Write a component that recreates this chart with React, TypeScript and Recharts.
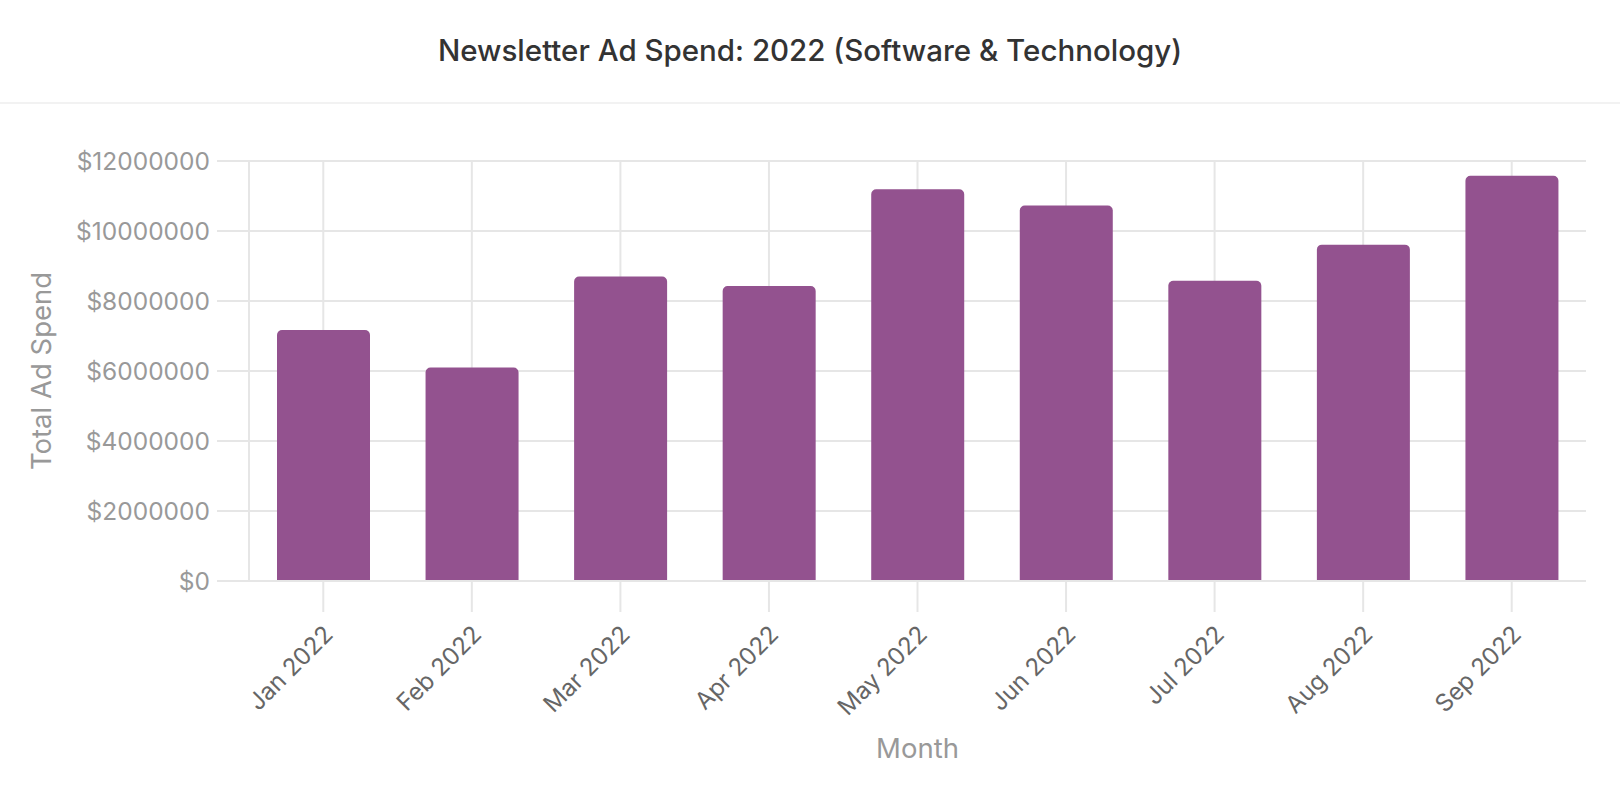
import React from "react";
import { BarChart, Bar, XAxis, YAxis, CartesianGrid } from "recharts";

const months = ["Jan 2022", "Feb 2022", "Mar 2022", "Apr 2022", "May 2022", "Jun 2022", "Jul 2022", "Aug 2022", "Sep 2022"];
const adSpend = [7170000, 6100000, 8700000, 8430000, 11190000, 10730000, 8580000, 9610000, 11580000];
const yTicks = [0, 2000000, 4000000, 6000000, 8000000, 10000000, 12000000];

const FONT = "Inter, 'Noto Sans', sans-serif";
const GRID = "#e6e6e6";

const data = months.map((month, i) => ({ month, spend: adSpend[i] }));

function MonthTick({ x, y, payload }: any) {
  const ax = x + 11;
  const ay = y + 24;
  return (
    <text
      x={ax}
      y={ay}
      transform={`rotate(-45, ${ax}, ${ay})`}
      textAnchor="end"
      fill="#666"
      fontSize={24}
      fontFamily={FONT}
    >
      {payload.value}
    </text>
  );
}

function YTitle({ viewBox }: any) {
  if (!viewBox) return null;
  const cx = viewBox.x + 40.5;
  const cy = viewBox.y + viewBox.height / 2;
  return (
    <text
      x={cx}
      y={cy}
      transform={`rotate(-90, ${cx}, ${cy})`}
      textAnchor="middle"
      dominantBaseline="central"
      fill="#999"
      fontSize={27.5}
      fontFamily={FONT}
    >
      Total Ad Spend
    </text>
  );
}

function XTitle({ viewBox }: any) {
  if (!viewBox) return null;
  return (
    <text
      x={viewBox.x + viewBox.width / 2}
      y={viewBox.y + 167}
      textAnchor="middle"
      dominantBaseline="central"
      fill="#999"
      fontSize={27.5}
      fontFamily={FONT}
    >
      Month
    </text>
  );
}

// grid lines only at the month centres (no border line on the right)
function monthLines({ xAxis, offset }: any) {
  const scale = xAxis?.scale;
  if (typeof scale === "function") {
    const half = typeof scale.bandwidth === "function" ? scale.bandwidth() / 2 : 0;
    return months.map((m) => scale(m) + half);
  }
  if (scale && typeof scale.map === "function") {
    return months.map((m) => scale.map(m, { position: "middle" }));
  }
  const band = offset.width / months.length;
  return months.map((_, i) => offset.left + band * (i + 0.5));
}

export default function App() {
  return (
    <div style={{ position: "absolute", left: 0, top: 0, width: 1620, height: 794, background: "#fff", fontFamily: FONT }}>
      <div
        style={{
          position: "absolute",
          left: 0,
          top: 0,
          width: 1620,
          height: 102,
          lineHeight: "100px",
          textAlign: "center",
          fontSize: 29.5,
          fontWeight: 500,
          color: "#333",
          borderBottom: "2px solid #f2f2f2",
        }}
      >
        Newsletter Ad Spend: 2022 (Software &amp; Technology)
      </div>
      <div style={{ position: "absolute", left: 0, top: 0 }}>
        <BarChart width={1620} height={794} data={data} margin={{ top: 161, right: 34, bottom: 0, left: 0 }}>
          <CartesianGrid stroke={GRID} strokeWidth={2} verticalCoordinatesGenerator={monthLines} />
          <XAxis
            dataKey="month"
            height={213}
            interval={0}
            tickSize={31}
            tickMargin={0}
            tickLine={{ stroke: GRID, strokeWidth: 2 }}
            axisLine={{ stroke: GRID, strokeWidth: 2 }}
            tick={<MonthTick />}
            label={<XTitle />}
          />
          <YAxis
            width={249}
            domain={[0, 12000000]}
            ticks={yTicks}
            interval={0}
            tickSize={32}
            tickMargin={7}
            tickLine={{ stroke: GRID, strokeWidth: 2 }}
            axisLine={{ stroke: GRID, strokeWidth: 2 }}
            tick={{ fill: "#999", fontSize: 24.5, fontFamily: FONT }}
            tickFormatter={(v: number) => `$${v}`}
            label={<YTitle />}
          />
          <Bar dataKey="spend" fill="#93528F" barSize={93} radius={[5, 5, 0, 0]} isAnimationActive={false} />
        </BarChart>
      </div>
    </div>
  );
}
